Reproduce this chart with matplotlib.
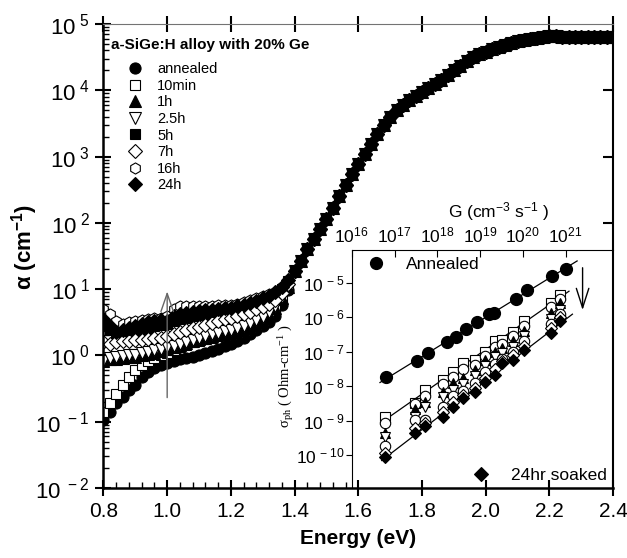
import numpy as np
import matplotlib
matplotlib.use('Agg')
import matplotlib.pyplot as plt
from matplotlib.ticker import FixedLocator, NullFormatter, NullLocator

plt.rcParams['font.family'] = ['Liberation Sans', 'DejaVu Sans']
plt.rcParams['mathtext.default'] = 'regular'

# ---- main panel: absorption coefficient vs photon energy (log10 alpha) ----
energy_low = np.round(np.arange(0.80, 1.39, 0.02), 2)   # 0.80 ... 1.38
log_annealed = [-0.97, -0.85, -0.72, -0.62, -0.52, -0.44, -0.32, -0.25, -0.19, -0.15,
                -0.12, -0.09, -0.06, -0.04, -0.02, 0.01, 0.04, 0.07, 0.10, 0.14,
                0.18, 0.22, 0.27, 0.32, 0.38, 0.44, 0.50, 0.60, 0.76, 0.98]
log_10min = [-0.85, -0.72, -0.58, -0.45, -0.32, -0.22, -0.14, -0.09, -0.04, 0.00,
             0.04, 0.08, 0.12, 0.16, 0.20, 0.22, 0.25, 0.27, 0.29, 0.31,
             0.33, 0.36, 0.39, 0.43, 0.48, 0.53, 0.60, 0.70, 0.84, 1.02]
log_1h = [-0.08, -0.06, -0.05, -0.04, -0.03, -0.02, 0.00, 0.02, 0.04, 0.07,
          0.10, 0.13, 0.16, 0.19, 0.22, 0.25, 0.27, 0.30, 0.32, 0.34,
          0.36, 0.39, 0.42, 0.46, 0.51, 0.56, 0.63, 0.72, 0.86, 1.04]
log_2h5 = [-0.08, -0.04, -0.02, -0.01, 0.00, 0.01, 0.03, 0.05, 0.08, 0.10,
           0.13, 0.15, 0.18, 0.21, 0.24, 0.27, 0.29, 0.32, 0.34, 0.37,
           0.39, 0.42, 0.45, 0.49, 0.53, 0.58, 0.65, 0.74, 0.88, 1.05]
log_5h = [0.45, 0.38, 0.32, 0.33, 0.36, 0.38, 0.40, 0.42, 0.44, 0.46,
          0.48, 0.52, 0.55, 0.57, 0.59, 0.61, 0.62, 0.64, 0.65, 0.67,
          0.68, 0.70, 0.72, 0.75, 0.78, 0.82, 0.86, 0.92, 1.00, 1.12]
log_7h = [0.20, 0.18, 0.20, 0.22, 0.22, 0.23, 0.24, 0.25, 0.26, 0.27,
          0.29, 0.32, 0.35, 0.38, 0.41, 0.43, 0.46, 0.49, 0.52, 0.55,
          0.57, 0.60, 0.63, 0.66, 0.70, 0.73, 0.77, 0.84, 0.94, 1.08]
log_16h = [0.70, 0.62, 0.52, 0.48, 0.50, 0.52, 0.53, 0.55, 0.56, 0.57,
           0.60, 0.70, 0.74, 0.75, 0.75, 0.75, 0.75, 0.75, 0.76, 0.76,
           0.76, 0.78, 0.80, 0.83, 0.86, 0.89, 0.92, 0.96, 1.03, 1.14]
log_24h = [0.55, 0.45, 0.36, 0.38, 0.42, 0.45, 0.48, 0.50, 0.52, 0.54,
           0.52, 0.60, 0.63, 0.64, 0.65, 0.67, 0.68, 0.69, 0.70, 0.71,
           0.72, 0.74, 0.76, 0.79, 0.82, 0.86, 0.90, 0.95, 1.03, 1.14]

# common absorption edge (all states coincide above ~1.4 eV)
energy_high = np.round(np.arange(1.40, 2.41, 0.02), 2)  # 1.40 ... 2.40
log_edge = [1.27, 1.43, 1.60, 1.75, 1.90, 2.06, 2.23, 2.40, 2.57, 2.73,
            2.89, 3.04, 3.19, 3.34, 3.48, 3.60, 3.70, 3.78, 3.85, 3.92,
            3.98, 4.04, 4.10, 4.16, 4.23, 4.30, 4.37, 4.44, 4.50, 4.54,
            4.58, 4.62, 4.66, 4.69, 4.72, 4.74, 4.76, 4.78, 4.79, 4.80,
            4.82, 4.82, 4.81, 4.81, 4.80, 4.80, 4.80, 4.80, 4.80, 4.80,
            4.80]

series = [
    ('annealed', log_annealed, 'o', 'k'),
    ('10min', log_10min, 's', 'w'),
    ('1h', log_1h, '^', 'k'),
    ('2.5h', log_2h5, 'v', 'w'),
    ('5h', log_5h, 's', 'k'),
    ('7h', log_7h, 'D', 'w'),
    ('16h', log_16h, 'h', 'w'),
    ('24h', log_24h, 'D', 'k'),
]

# ---- inset: photoconductivity vs generation rate (log10 values) ----
logG_ann = [16.81, 17.53, 17.78, 18.22, 18.44, 18.68, 18.93, 19.20, 19.32, 19.83, 20.10, 20.69, 21.00]
logS_ann = [-7.74, -7.26, -7.04, -6.73, -6.56, -6.35, -6.13, -5.90, -5.88, -5.47, -5.22, -4.80, -4.60]

logG_soak = [16.77, 17.48, 17.71, 18.14, 18.37, 18.60, 18.89, 19.12, 19.36, 19.51, 19.78, 20.02, 20.65, 20.88]
logS_10min = [-8.89, -8.48, -8.11, -7.82, -7.58, -7.33, -7.24, -7.00, -6.70, -6.66, -6.44, -6.12, -5.59, -5.35]
logS_circ_a = [-9.07, -8.52, -8.30, -7.95, -7.72, -7.50, -7.38, -7.12, -6.85, -6.78, -6.55, -6.25, -5.70, -5.47]
logS_1h = [-9.36, -8.67, -8.45, -8.16, -7.92, -7.77, -7.53, -7.24, -7.00, -6.90, -6.70, -6.41, -5.88, -5.59]
logS_2h5 = [-9.47, -8.89, -8.61, -8.32, -8.11, -7.95, -7.70, -7.42, -7.15, -7.05, -6.85, -6.55, -6.05, -5.78]
logS_circ_b = [-9.74, -8.98, -8.98, -8.60, -8.30, -8.15, -7.90, -7.60, -7.35, -7.20, -7.00, -6.70, -6.20, -5.90]
logS_7h = [-9.95, -9.22, -9.06, -8.75, -8.45, -8.25, -8.05, -7.75, -7.50, -7.27, -7.10, -6.82, -6.30, -6.00]
logS_24h = [-10.05, -9.37, -9.16, -8.89, -8.61, -8.35, -8.16, -7.87, -7.67, -7.33, -7.24, -6.95, -6.46, -6.12]

inset_series = [
    (logS_10min, 's', 'w'),
    (logS_circ_a, 'o', 'w'),
    (logS_1h, '^', 'k'),
    (logS_2h5, 'v', 'w'),
    (logS_circ_b, 'o', 'w'),
    (logS_7h, 'D', 'w'),
    (logS_24h, 'D', 'k'),
]

fig = plt.figure(figsize=(6.27, 5.58), dpi=100)
ax = fig.add_axes([0.165, 0.1254, 0.813, 0.8316])

handles = []
for label, logs, mk, fc in series:
    e = list(energy_low) + list(energy_high)
    a = 10.0 ** np.array(list(logs) + log_edge)
    ms = 7 if mk in ('s', 'D') else 8
    h, = ax.plot(e, a, ls='none', marker=mk, ms=ms, mfc=fc, mec='k', mew=0.8, label=label)
    handles.append(h)

ax.set_yscale('log')
ax.set_xlim(0.8, 2.4)
ax.set_ylim(1e-2, 1e5)

xt = np.round(np.arange(0.8, 2.41, 0.2), 1)
ax.set_xticks(xt)
ax.set_xticklabels(['%.1f' % v for v in xt])
ax.xaxis.set_minor_locator(FixedLocator(np.arange(0.84, 1.57, 0.04)))
ax.set_yticks([10.0 ** k for k in range(-2, 6)])
ax.set_yticklabels([r'$10^{\;%d}$' % k for k in range(-2, 6)])
ax.tick_params(which='major', direction='inout', length=12, width=1.5, labelsize=15,
               top=True, right=False, pad=4)
ax.tick_params(axis='y', which='major', labelsize=16)
ax.tick_params(which='minor', direction='in', length=4, width=1, top=False, right=False)
for s in ('left', 'bottom'):
    ax.spines[s].set_linewidth(1.8)
ax.spines['right'].set_linewidth(1.5)
ax.spines['top'].set_linewidth(0.8)
ax.spines['top'].set_color('0.45')

# right-hand ticks only above the inset
axr = ax.twinx()
axr.set_yscale('log')
axr.set_ylim(ax.get_ylim())
axr.yaxis.set_major_locator(FixedLocator([1e2, 1e3, 1e4]))
axr.yaxis.set_minor_locator(NullLocator())
axr.yaxis.set_major_formatter(NullFormatter())
axr.tick_params(axis='y', which='major', direction='in', length=7, width=1.5,
                right=True, left=False)
for s in axr.spines.values():
    s.set_visible(False)

ax.set_xlabel('Energy (eV)', fontsize=15, fontweight='bold', labelpad=6)
ax.set_ylabel(r'α (cm$^{-1}$)', fontsize=16, fontweight='bold')
ax.yaxis.set_label_coords(-0.125, 0.52)

ax.text(0.014, 0.955, 'a-SiGe:H alloy with 20% Ge', transform=ax.transAxes,
        fontsize=11, fontweight='bold', va='center', ha='left')
leg = ax.legend(handles=handles, loc='upper left', bbox_to_anchor=(0.047, 0.918),
                frameon=False, fontsize=10.5, handlelength=1.0, handletextpad=1.05,
                labelspacing=0.18, borderpad=0, borderaxespad=0)

ax.annotate('', xy=(1.0, 10.2), xytext=(1.0, 0.21),
            arrowprops=dict(arrowstyle='->,head_length=1.3,head_width=0.45',
                            color='0.4', lw=1.0))

# ---- inset ----
ax_in = fig.add_axes([0.561, 0.1254, 0.417, 0.4265])
ax_in.patch.set_alpha(0)
ax_in.set_xscale('log')
ax_in.set_yscale('log')
ax_in.set_xlim(1e16, 1.3e22)
ax_in.set_ylim(1.1e-11, 9e-5)

Gs = 10.0 ** np.array(logG_soak)
for logs, mk, fc in inset_series:
    ms = 6.5 if mk in ('s', 'D') else 7.5
    ax_in.plot(Gs, 10.0 ** np.array(logs), ls='none', marker=mk, ms=ms, mfc=fc,
               mec='k', mew=0.8, zorder=3)
h_ann, = ax_in.plot(10.0 ** np.array(logG_ann), 10.0 ** np.array(logS_ann), ls='none',
                    marker='o', ms=8.5, mfc='k', mec='k', zorder=4)

# power-law fits
for gx, sy, g0, g1 in [(logG_ann, logS_ann, 16.66, 21.27),
                       (logG_soak, logS_10min, 16.70, 21.08),
                       (logG_soak, logS_24h, 16.70, 21.16)]:
    p = np.polyfit(gx, sy, 1)
    gg = np.array([g0, g1])
    ax_in.plot(10.0 ** gg, 10.0 ** np.polyval(p, gg), color='k', lw=0.9, zorder=2)

ax_in.annotate('', xy=(2.5e21, 10 ** -5.87), xytext=(2.5e21, 10 ** -4.48),
               arrowprops=dict(arrowstyle='->,head_length=1.4,head_width=0.45',
                               color='k', lw=1.0))

ax_in.xaxis.tick_top()
ax_in.set_xticks([10.0 ** k for k in range(16, 22)])
ax_in.set_xticklabels([r'$10^{%d}$' % k for k in range(16, 22)])
ax_in.xaxis.set_minor_locator(NullLocator())
ax_in.set_yticks([10.0 ** k for k in range(-10, -4)])
ax_in.set_yticklabels([r'$10^{\,%d}$' % k for k in range(-10, -4)])
ax_in.yaxis.set_minor_locator(NullLocator())
ax_in.tick_params(axis='x', direction='in', length=5, width=0.8, labelsize=12.5, pad=3)
ax_in.tick_params(axis='y', direction='out', length=4, width=0.8, labelsize=12.5, pad=1)
ax_in.spines['bottom'].set_visible(False)
ax_in.spines['right'].set_visible(False)
for s in ('left', 'top'):
    ax_in.spines[s].set_linewidth(0.8)

ax_in.text(0.56, 1.16, r'G (cm$^{-3}$ s$^{-1}$ )', transform=ax_in.transAxes,
           fontsize=12.5, ha='center', va='center')
ax_in.set_ylabel(r'$\sigma_{ph}$ ( Ohm-cm$^{-1}$ )', family=['Liberation Serif'],
                 fontsize=10.5)
ax_in.yaxis.set_label_coords(-0.215, 0.47)

leg1 = ax_in.legend(handles=[h_ann], labels=['Annealed'], loc='upper left',
                    bbox_to_anchor=(0.06, 0.97), frameon=False, fontsize=12.5,
                    handlelength=1.0, handletextpad=1.2, borderpad=0, borderaxespad=0)
ax_in.add_artist(leg1)
ax_in.legend(handles=[handles[-1]], labels=['24hr soaked'], loc='lower right',
             bbox_to_anchor=(0.975, 0.02), frameon=False, fontsize=12.5,
             handlelength=1.0, handletextpad=1.2, borderpad=0, borderaxespad=0)

fig.savefig('out.png', dpi=100)
